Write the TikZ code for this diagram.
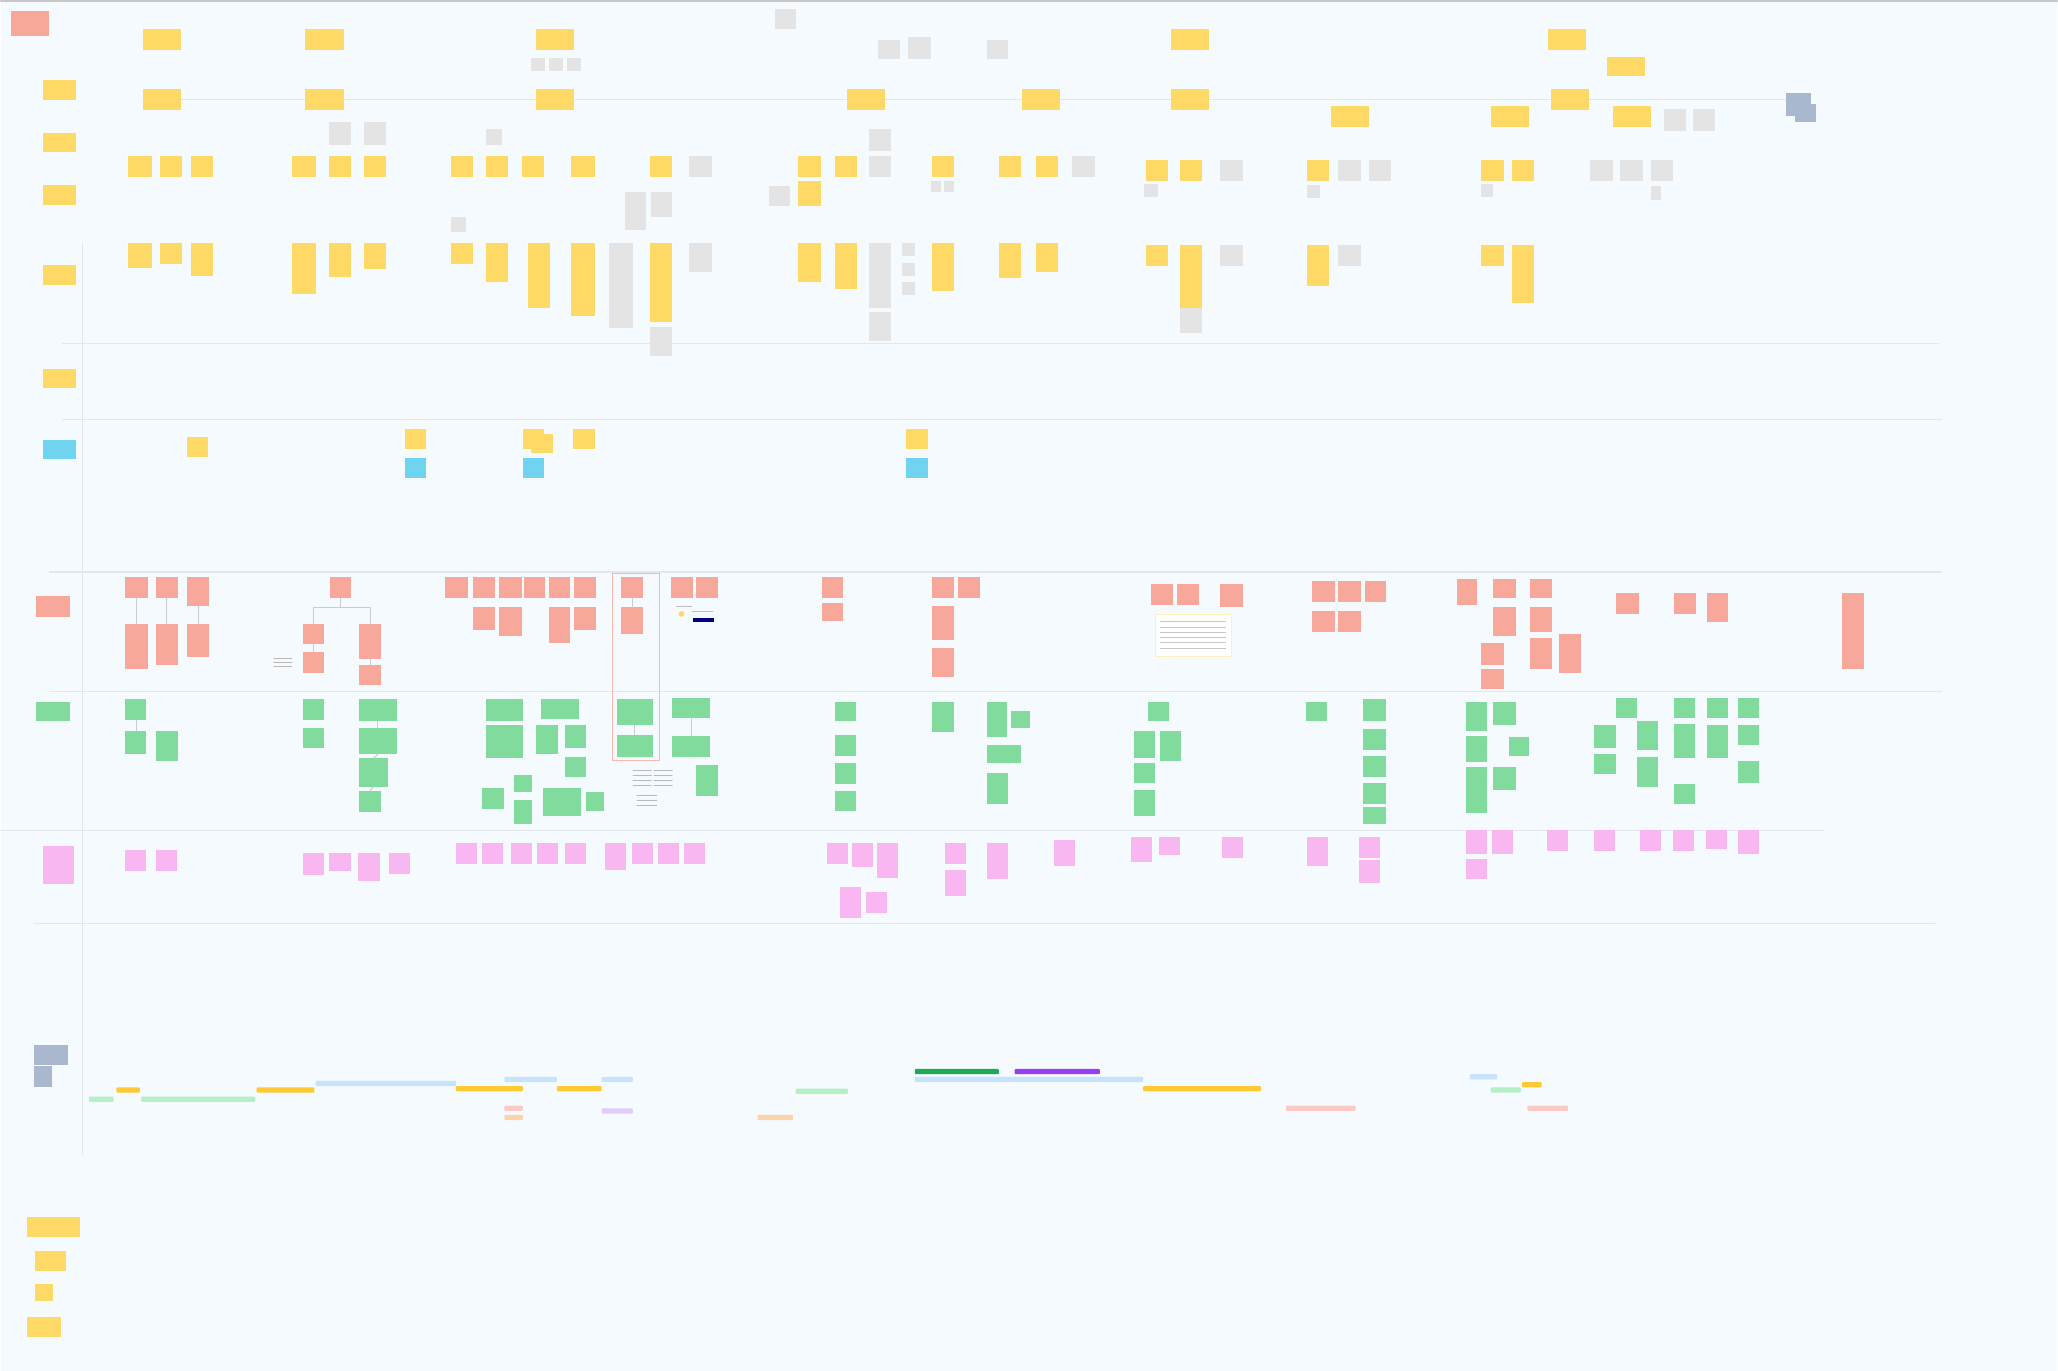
\documentclass[tikz,border=0pt]{standalone}
\definecolor{board}{HTML}{F5FAFE}
\definecolor{rule}{HTML}{E1E7ED}
\definecolor{sun}{HTML}{FFD966}
\definecolor{ash}{HTML}{E4E4E4}
\definecolor{coral}{HTML}{F8A89B}
\definecolor{mint}{HTML}{80DB9C}
\definecolor{rose}{HTML}{F9B7F1}
\definecolor{sky}{HTML}{70D4F0}
\definecolor{slate}{HTML}{A9B8CF}
\definecolor{barblue}{HTML}{C6E3FB}
\definecolor{baryel}{HTML}{FFC933}
\definecolor{bargrn}{HTML}{B5EFC6}
\definecolor{barred}{HTML}{FDC9C4}
\definecolor{barorg}{HTML}{FDD3A8}
\definecolor{barlil}{HTML}{E2CCFB}
\definecolor{bardkg}{HTML}{1DAA55}
\definecolor{barpur}{HTML}{9B3CF0}
\tikzset{note/.style={rectangle,inner sep=0pt,outer sep=0pt},
  bar/.style={rectangle,inner sep=0pt,outer sep=0pt,rounded corners=.4pt},
  lane/.style={rule,line width=.5pt},
  link/.style={black!20,line width=.4pt}}
% note by its corners: name, colour, x1, y1, x2, y2
\newcommand\nt[6]{\node[note,fill=#2,minimum width={(#5-#3)*0.02cm},minimum height={(#6-#4)*0.02cm}] (#1) at ({(#3+#5)/2},{(#4+#6)/2}) {};}
\newcommand\br[5]{\node[bar,fill=#2,minimum width={(#4-#3)*0.02cm},minimum height=0.08cm] (#1) at ({(#3+#4)/2},{#5}) {};}

\begin{document}
\begin{tikzpicture}[x=0.02cm,y=-0.02cm,line cap=round]
\fill[board] (0,0) rectangle (1568,1045);
\draw[gray!45,line width=.8pt] (0,.5)--(1568,.5);
% lanes
\draw[lane] (110,76)--(1370,76);
\foreach \y/\a/\b in {262/47/1478,320/47/1480,436/37/1480,527/37/1480,633/0/1390,704/25/1475}
  {\draw[lane] (\a,\y)--(\b,\y);}
\draw[lane] (62,185)--(62,880);
% left column
\nt{tag}{coral}{8}{8}{37}{27}
\foreach \a/\b/\c/\d [count=\i] in {32/61/57/76,32/101/57/116,32/141/57/156,32/202/57/217,32/281/57/296,20/928/60/943,26/954/50/969,26/979/40/992,20/1004/46/1019}
  {\nt{lb\i}{sun}{\a}{\b}{\c}{\d}}
\nt{lbsky}{sky}{32}{335}{57}{350}
\nt{lbpain}{coral}{27}{454}{53}{470}
\nt{lbopp}{mint}{27}{535}{53}{550}
\nt{lbidea}{rose}{32}{645}{56}{674}
\nt{lbtime}{slate}{25}{797}{51}{812}
\nt{lbkey}{slate}{25}{813}{39}{829}
\nt{tr1}{slate}{1361}{71}{1380}{88}
\nt{tr2}{slate}{1368}{79}{1384}{93}
% headers and phases
\foreach \a/\b/\c/\d [count=\i] in {108/22/137/38,232/22/262/38,408/22/437/38,892/22/921/38,1180/22/1209/38,1225/43/1254/58}
  {\nt{hd\i}{sun}{\a}{\b}{\c}{\d}}
\foreach \a/\b/\c/\d [count=\i] in {108/68/137/84,232/68/262/84,408/68/437/84,645/68/674/84,779/68/808/84,892/68/921/84,1182/68/1211/84,1014/81/1043/97,1136/81/1165/97,1229/81/1258/97}
  {\nt{ph\i}{sun}{\a}{\b}{\c}{\d}}
% grey notes
\foreach \a/\b/\c/\d [count=\i] in {590/7/606/22,669/30/686/45,692/28/709/45,752/30/768/45,404/44/415/54,418/44/429/54,432/44/442/54,250/93/267/110,277/93/294/110,370/98/382/110,662/98/679/115,1268/83/1285/100,1290/83/1307/100,525/119/542/135,662/119/679/135,817/119/834/135,930/122/947/138,1020/122/1037/138,1043/122/1060/138,1212/122/1229/138,1235/122/1252/138,1258/122/1275/138,586/142/602/157,709/138/717/146,719/138/727/146,872/140/882/150,996/141/1006/151,1129/140/1138/150,1258/142/1266/152,343/165/355/177,476/146/492/175,496/146/512/165,464/185/482/250,525/185/542/207,662/185/679/235,687/185/697/195,687/200/697/210,687/215/697/225,930/187/947/203,1020/187/1037/203,899/235/916/254,495/249/512/271,662/238/679/260}
  {\nt{gy\i}{ash}{\a}{\b}{\c}{\d}}
% steps
\foreach \a/\b/\c/\d [count=\i] in {97/119/115/135,121/119/138/135,145/119/162/135,222/119/240/135,250/119/267/135,277/119/294/135,343/119/360/135,370/119/387/135,397/119/414/135,435/119/453/135,495/119/512/135,608/119/625/135,636/119/653/135,710/119/727/135,761/119/778/135,789/119/806/135,873/122/890/138,899/122/916/138,996/122/1013/138,1129/122/1146/138,1152/122/1169/138,608/138/625/157}
  {\nt{st\i}{sun}{\a}{\b}{\c}{\d}}
% stories
\foreach \a/\b/\c/\d [count=\i] in {97/185/115/204,121/185/138/201,145/185/162/210,222/185/240/224,250/185/267/211,277/185/294/205,343/185/360/201,370/185/387/215,402/185/419/235,435/185/453/241,495/185/512/245,608/185/625/215,636/185/653/220,710/185/727/222,761/185/778/212,789/185/806/207,873/187/890/203,899/187/916/235,996/187/1013/218,1129/187/1146/203,1152/187/1169/231}
  {\nt{cs\i}{sun}{\a}{\b}{\c}{\d}}
% touch points
\foreach \a/\b/\c/\d [count=\i] in {142/333/158/348,308/327/324/342,398/327/414/342,404/331/421/345,436/327/453/342,690/327/707/342}
  {\nt{tp\i}{sun}{\a}{\b}{\c}{\d}}
\foreach \a/\b/\c/\d [count=\i] in {308/349/324/364,398/349/414/364,690/349/707/364}
  {\nt{tk\i}{sky}{\a}{\b}{\c}{\d}}
% pain points
\foreach \a/\b/\c/\d [count=\i] in {95/440/112/456,118/440/135/456,142/440/159/462,95/476/112/510,118/476/135/507,142/476/159/501,251/440/267/456,230/476/246/491,273/476/290/502,230/497/246/513,273/507/290/522,339/440/356/456,360/440/377/456,380/440/397/456,399/440/415/456,418/440/434/456,437/440/454/456,360/463/377/480,380/463/397/485,418/463/434/490,437/463/454/480,473/440/490/456,473/463/490/483,511/440/528/456,530/440/547/456,626/440/642/456,626/460/642/473,710/440/727/456,730/440/747/456,710/462/727/488,710/494/727/516,877/445/894/461,897/445/914/461,930/445/947/463,1000/443/1017/459,1020/443/1037/459,1040/443/1056/459,1000/466/1017/482,1020/466/1037/482,1110/441/1126/461,1138/441/1155/456,1166/441/1183/456,1138/463/1155/485,1166/463/1183/482,1129/490/1146/507,1129/510/1146/525,1188/483/1205/513,1166/486/1183/510,1232/452/1249/468,1276/452/1293/468,1301/452/1317/474,1404/452/1421/510}
  {\nt{rd\i}{coral}{\a}{\b}{\c}{\d}}
\draw[coral!80,line width=.4pt] (466,437) rectangle (502,580);
% opportunities
\foreach \a/\b/\c/\d [count=\i] in {95/533/111/549,95/557/111/575,118/557/135/580,230/533/246/549,230/555/246/570,273/533/302/550,273/555/302/575,273/578/295/600,273/603/290/619,370/533/398/550,412/533/441/548,370/553/398/578,408/553/425/575,430/553/446/570,430/577/446/592,391/591/405/604,367/601/384/617,391/610/405/628,413/601/442/622,446/604/460/618,470/533/497/553,470/560/497/577,512/532/541/547,512/561/541/577,530/583/547/607,636/535/652/550,636/560/652/576,636/582/652/598,636/603/652/618,710/535/727/558,752/535/767/562,770/542/785/555,752/568/778/582,752/589/768/613,875/535/891/550,864/557/880/578,884/557/900/580,864/582/880/597,864/602/880/622,995/535/1011/550,1039/533/1056/550,1039/556/1056/572,1039/576/1056/592,1039/597/1056/613,1039/615/1056/628,1117/535/1133/557,1138/535/1155/553,1117/561/1133/581,1150/562/1165/576,1117/585/1133/620,1138/585/1155/602,1232/532/1248/547,1215/553/1232/570,1215/575/1232/590,1248/550/1264/572,1248/577/1264/600,1276/532/1292/547,1276/552/1292/578,1276/598/1292/613,1301/532/1317/547,1301/553/1317/578,1325/532/1341/547,1325/553/1341/568,1325/580/1341/597}
  {\nt{gn\i}{mint}{\a}{\b}{\c}{\d}}
% ideas
\foreach \a/\b/\c/\d [count=\i] in {95/648/111/664,118/648/134/664,230/650/246/667,250/650/267/664,272/650/289/672,296/650/312/666,347/643/363/659,367/643/383/659,389/643/405/659,409/643/425/659,430/643/446/659,461/643/477/663,481/643/497/659,501/643/517/659,521/643/537/659,630/643/646/659,649/643/665/661,668/643/684/669,640/676/656/700,660/680/676/696,720/643/736/659,720/663/736/683,752/643/768/670,803/640/819/660,862/638/878/657,883/638/899/652,931/638/947/654,996/638/1012/660,1036/638/1052/654,1036/656/1052/673,1117/633/1133/651,1137/633/1153/651,1117/655/1133/670,1179/633/1195/649,1215/633/1231/649,1250/633/1266/649,1275/633/1291/649,1300/633/1316/647,1325/633/1341/651}
  {\nt{pk\i}{rose}{\a}{\b}{\c}{\d}}
% links
\foreach \p/\q in {rd1/rd4,rd2/rd5,rd3/rd6,rd8/rd10,rd9/rd11,rd22/rd23,gn1/gn2,gn6/gn7,gn7/gn8,gn8/gn9,gn21/gn22,gn23/gn24}
  {\draw[link] (\p.south)--(\q.north);}
\draw[link] (rd7.south)--++(0,7)-|(rd8.north);
\draw[link] (rd7.south)--++(0,7)-|(rd9.north);
% document card and sketch
\node[note,fill=white,draw=sun!40,line width=.3pt,minimum width=1.16cm,minimum height=.64cm] (card) at (909,484) {};
\foreach \y in {474,478,...,496} {\draw[gray!45,line width=.3pt] (884,\y)--(934,\y);}
\fill[sun] (519,468) circle (2.2);
\draw[gray!50,line width=.3pt] (515,462)--(527,462) (527,466)--(543,466);
\fill[blue!50!black] (528,471) rectangle (544,474);
\foreach \y in {502,505,508} {\draw[gray!55,line width=.3pt] (208,\y)--(222,\y);}
\foreach \y in {587,591,595,599} {\draw[gray!55,line width=.3pt] (482,\y)--(496,\y) (498,\y)--(512,\y);}
\foreach \y in {606,610,614} {\draw[gray!55,line width=.3pt] (485,\y)--(500,\y);}
% timeline
\br{t1}{bargrn}{67}{86}{838}
\br{t2}{baryel}{88}{106}{831}
\br{t3}{bargrn}{107}{194}{838}
\br{t4}{baryel}{195}{239}{831}
\br{t5}{barblue}{240}{347}{826}
\br{t6}{baryel}{347}{398}{830}
\br{t7}{barblue}{384}{424}{823}
\br{t8}{baryel}{424}{458}{830}
\br{t9}{barblue}{458}{482}{823}
\br{t10}{barred}{384}{398}{845}
\br{t11}{barorg}{384}{398}{852}
\br{t12}{barlil}{458}{482}{847}
\br{t13}{barorg}{577}{604}{852}
\br{t14}{bargrn}{606}{646}{832}
\br{t15}{bardkg}{697}{761}{817}
\br{t16}{barpur}{773}{838}{817}
\br{t17}{barblue}{697}{871}{823}
\br{t18}{baryel}{871}{961}{830}
\br{t19}{barred}{980}{1033}{845}
\br{t20}{barblue}{1120}{1141}{821}
\br{t21}{baryel}{1160}{1175}{827}
\br{t22}{bargrn}{1136}{1159}{831}
\br{t23}{barred}{1164}{1195}{845}
\end{tikzpicture}
\end{document}
